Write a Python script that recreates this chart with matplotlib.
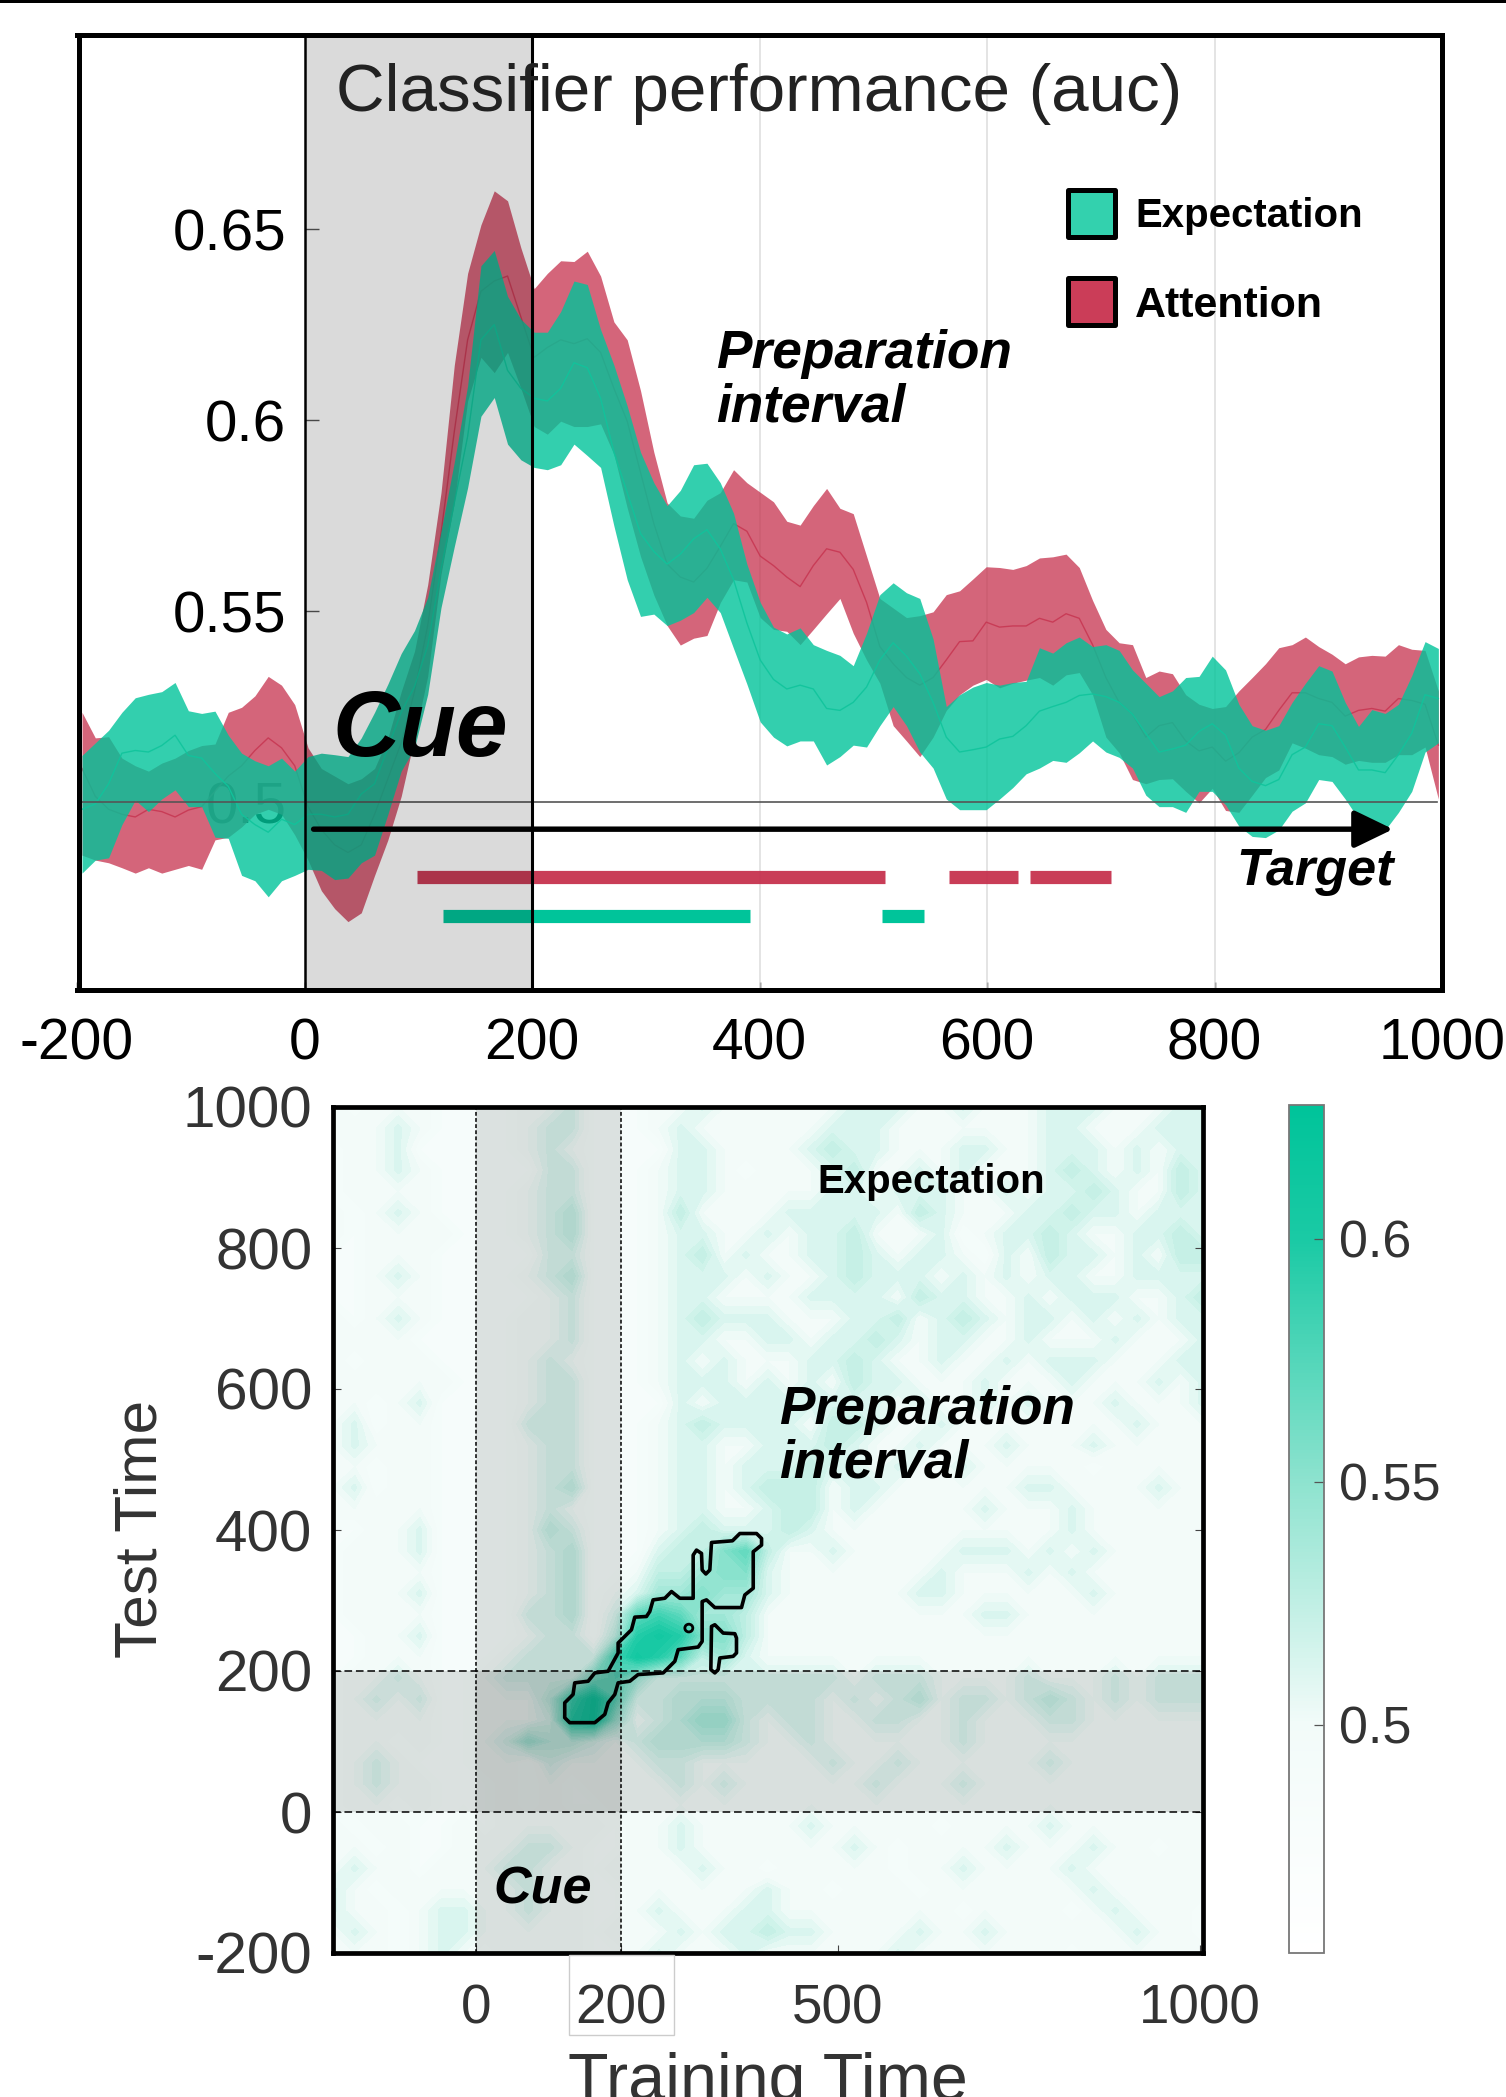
import numpy as np
import matplotlib
matplotlib.use('Agg')
import matplotlib.pyplot as plt
from matplotlib.colors import LinearSegmentedColormap, Normalize
from matplotlib.cm import ScalarMappable
from matplotlib.patches import Rectangle, Polygon, Circle

plt.rcParams['font.family'] = ['Liberation Sans', 'DejaVu Sans']
plt.rcParams['axes.unicode_minus'] = False

W, H = 1506, 2097

# ---------- decoding-time series (AUC), one sample every 11.69 ms from -195.6 ms ----------
times = [round(-195.6 + 11.69 * k, 1) for k in range(103)]

exp_upper = [
 .5122,.5155,.5188,.5235,.5273,.5282,.5289,.5313,.5239,.5232,.5238,.5175,.5128,.5108,.5095,.5115,.5081,
 .5119,.5128,.5124,.5119,.5168,.5235,.5309,.5389,.5449,.5536,.5709,.5890,.6090,.6404,.6444,.6324,.6264,
 .6230,.6230,.6284,.6364,.6355,.6237,.6144,.6037,.5916,.5836,.5776,.5816,.5883,.5887,.5836,.5756,.5623,
 .5523,.5458,.5440,.5456,.5412,.5397,.5384,.5357,.5442,.5543,.5574,.5548,.5533,.5427,.5250,.5281,.5301,
 .5313,.5306,.5313,.5316,.5404,.5390,.5417,.5432,.5407,.5412,.5397,.5346,.5311,.5276,.5291,.5326,.5329,
 .5382,.5346,.5256,.5200,.5188,.5200,.5261,.5311,.5357,.5343,.5261,.5198,.5242,.5232,.5256,.5331,.5420,.5402]
exp_lower = [
 .4814,.4848,.4854,.4941,.5005,.4975,.5008,.5032,.4988,.4988,.4908,.4905,.4808,.4794,.4752,.4794,.4808,
 .4824,.4821,.4797,.4801,.4841,.4861,.4968,.5081,.5142,.5282,.5509,.5669,.5823,.6010,.6059,.5937,.5896,
 .5876,.5870,.5883,.5937,.5907,.5876,.5723,.5582,.5486,.5492,.5462,.5476,.5496,.5536,.5496,.5402,.5309,
 .5210,.5170,.5147,.5160,.5160,.5097,.5119,.5149,.5144,.5200,.5250,.5200,.5131,.5089,.5008,.4980,.4980,
 .4980,.5008,.5038,.5074,.5089,.5109,.5104,.5129,.5160,.5131,.5117,.5089,.5018,.4988,.4988,.4973,.5028,
 .5028,.4993,.4937,.4910,.4907,.4927,.4976,.4998,.5059,.5054,.5008,.4956,.4925,.4927,.4973,.5028,.5131,.5155]
exp_mean = [
 .4981,.4995,.5048,.5128,.5135,.5131,.5148,.5175,.5122,.5115,.5075,.5041,.4968,.4941,.4921,.4955,.4941,
 .4968,.4968,.4961,.4968,.5021,.5048,.5142,.5235,.5302,.5409,.5609,.5783,.5957,.6210,.6250,.6130,.6083,
 .6057,.6050,.6083,.6150,.6137,.6057,.5916,.5810,.5703,.5656,.5623,.5649,.5689,.5713,.5663,.5582,.5469,
 .5372,.5321,.5296,.5306,.5296,.5245,.5240,.5261,.5301,.5372,.5417,.5382,.5336,.5261,.5170,.5131,.5137,
 .5144,.5165,.5172,.5200,.5238,.5250,.5261,.5279,.5283,.5276,.5261,.5230,.5180,.5131,.5139,.5149,.5185,
 .5205,.5175,.5089,.5054,.5043,.5059,.5124,.5144,.5205,.5200,.5144,.5084,.5084,.5077,.5124,.5180,.5281,.5271]
att_upper = [
 .5235,.5168,.5171,.5115,.5095,.5081,.5102,.5115,.5135,.5148,.5152,.5235,.5248,.5278,.5329,.5306,.5255,
 .5142,.5088,.5068,.5048,.5061,.5088,.5168,.5289,.5395,.5569,.5810,.6144,.6384,.6511,.6600,.6574,.6451,
 .6344,.6384,.6417,.6415,.6442,.6377,.6257,.6210,.6077,.5916,.5783,.5749,.5743,.5790,.5810,.5870,.5836,
 .5811,.5786,.5735,.5725,.5776,.5821,.5769,.5755,.5644,.5533,.5508,.5483,.5488,.5498,.5543,.5553,.5584,
 .5616,.5614,.5609,.5619,.5639,.5642,.5649,.5614,.5528,.5452,.5417,.5412,.5326,.5343,.5336,.5281,.5256,
 .5245,.5250,.5291,.5326,.5362,.5404,.5412,.5432,.5407,.5387,.5362,.5380,.5384,.5382,.5412,.5400,.5397,.5291]
att_lower = [
 .4861,.4848,.4841,.4828,.4814,.4828,.4814,.4824,.4834,.4824,.4901,.4908,.4935,.4968,.4981,.4968,.4914,
 .4848,.4768,.4721,.4687,.4710,.4808,.4901,.5015,.5168,.5329,.5596,.5783,.6050,.6164,.6124,.6177,.6083,
 .5983,.5963,.5997,.5983,.5983,.5990,.5910,.5770,.5643,.5542,.5462,.5411,.5429,.5436,.5522,.5582,.5576,
 .5483,.5452,.5447,.5412,.5452,.5493,.5533,.5442,.5372,.5311,.5200,.5160,.5119,.5170,.5240,.5281,.5306,
 .5321,.5299,.5311,.5319,.5326,.5306,.5333,.5339,.5281,.5170,.5129,.5059,.5048,.5059,.5061,.5028,.4998,
 .5036,.4978,.4973,.5018,.5064,.5084,.5155,.5141,.5124,.5119,.5099,.5109,.5104,.5104,.5124,.5124,.5144,.5008]
att_mean = [
 .5088,.5015,.4981,.4968,.4961,.4981,.4975,.4961,.4979,.4988,.5028,.5068,.5095,.5135,.5168,.5142,.5095,
 .4988,.4928,.4888,.4868,.4888,.4968,.5061,.5155,.5289,.5462,.5703,.5970,.6210,.6337,.6364,.6377,.6270,
 .6164,.6190,.6210,.6200,.6213,.6177,.6083,.5997,.5863,.5729,.5623,.5589,.5576,.5612,.5669,.5729,.5709,
 .5644,.5619,.5589,.5564,.5619,.5663,.5654,.5609,.5523,.5407,.5362,.5326,.5306,.5326,.5372,.5420,.5422,
 .5471,.5458,.5461,.5461,.5481,.5471,.5493,.5481,.5412,.5326,.5261,.5230,.5170,.5200,.5208,.5160,.5134,
 .5144,.5107,.5129,.5170,.5190,.5240,.5286,.5286,.5271,.5261,.5225,.5240,.5245,.5238,.5271,.5266,.5256,.5149]

# significant intervals (ms)
att_sig = [(99, 510), (567, 627), (638, 709)]
exp_sig = [(122, 392), (508, 545)]

top_xticks = [-200, 0, 200, 400, 600, 800, 1000]
top_yticks = [0.5, 0.55, 0.6, 0.65]
top_ylabels = ['0.5', '0.55', '0.6', '0.65']

# ---------- temporal generalisation matrix: each digit d stands for heat_levels[d] (AUC) ----------
heat_levels = [0.490, 0.500, 0.512, 0.525, 0.540, 0.555, 0.570, 0.583, 0.595, 0.6075]
heat_train = [-197 + 30 * i for i in range(41)]
heat_test = [1000 - 30 * r for r in range(41)]
heat_rows = [
 "10111000011200011211111122211211122211122",
 "11121000012200012111111222111111122111222",
 "01120000012100002211112322111221122212122",
 "01121000002200012210111231121211123212132",
 "01111000012200012211111221222112122321132",
 "10121000012300013111122222132111223221222",
 "10111100012300012211212231112012232112232",
 "00111000002200012312112232122102132212133",
 "00121000012300012221211232221212122112222",
 "00111000001200012211112222132211212221123",
 "10121000011200012322211122312321221212122",
 "11110000011200012211221223212211211121112",
 "10111000012100012121112232112112122211122",
 "11111100012200012221212132211121112111212",
 "11012000012200002122222222121121211121112",
 "12011000022200012322221332112111111112111",
 "12111000012200012211222321121112111211111",
 "11011000012200012212223221211211111011111",
 "12011000012300012212333122111111221111211",
 "11111000012100012211233121111121112111111",
 "00112000013200012322232111111111112111111",
 "01112000012300023356311211111222121211111",
 "01111000012300133455211111112111212111111",
 "01112000012301244544211111122111111211111",
 "01111000022302676443111111111122111111111",
 "00112000012203898553111111111111111111111",
 "00111000122227986342111111111111111111111",
 "01121001222256422222222212221111211121222",
 "01212001113796223332222121231221232121222",
 "01111001112894123442122112211211122111111",
 "01101001243321233332112111111211111111111",
 "01210001102111122111111211211111121111111",
 "01211000101011112121111112111211111111111",
 "01101000101001111111111111111111111111111",
 "10110010111110112111112111110111121111111",
 "11010011122100112111111121011112111211011",
 "12110111221101111211011111011211112111111",
 "21011111121100111111211011101111111211111",
 "21101221121100121112211111111011110121110",
 "12101221111101112122322111121121111112110",
 "11101210111100121112111111211111110111111",
]

# significance contour (training ms, test ms)
cluster_train = [122.9,122.9,129.8,164.4,178.2,182.8,192,196.6,212.7,224.2,258.8,274.9,279.5,307.1,312.6,312.6,
                 318.6,330.1,366.9,371.5,383.1,383.1,394.6,394.6,387.7,364.6,354.5,325.5,323.2,317.7,312.6,311.7,
                 304.8,300.2,300.2,281.8,270.3,261.1,244.9,240.3,235.7,219.6,215,196.6,196.6,182.8,164.4,155.2,136.7,134.4]
cluster_test = [154.9,133.8,126.7,126.7,138.5,154.9,166.7,183.2,185.5,195,197.3,213.8,230.3,234,242,298.5,
                300.9,290,290,307.9,317.4,369.2,378.6,388,395,395,384.7,382.3,343.3,337.6,343.3,366.8,
                371.5,364.4,303.2,303.2,312.7,303.2,300.9,284.4,277.3,276.4,258.5,239.7,225.6,199.7,197.3,185.5,183.2,166.7]
islet_train = [325.5,330.1,341.6,357.7,360,360,355.4,337,334.7,330.1,324.6]
islet_test = [263.2,265.6,253.8,252.9,246.7,225.6,220.8,218.5,202,197.3,202]
hole_center = (294.2, 260.9)
hole_radius = 5.5

heat_xticks = [0, 200, 500, 1000]
heat_yticks = [-200, 0, 200, 400, 600, 800, 1000]
cbar_ticks = [0.5, 0.55, 0.6]
cbar_labels = ['0.5', '0.55', '0.6']

GREEN = '#00C49A'
RED = '#C6324E'


def box(l, t, r, b):
    return [l / W, 1 - b / H, (r - l) / W, (b - t) / H]


def ftext(x, y, s, **kw):
    return fig.text(x / W, 1 - y / H, s, va=kw.pop('va', 'baseline'), **kw)


fig = plt.figure(figsize=(W / 100, H / 100), dpi=100, facecolor='white')
fig.add_artist(Rectangle((0, 1 - 3 / H), 1, 3 / H, transform=fig.transFigure, fc='black', ec='none'))

# ================= top panel =================
ax = fig.add_axes(box(77, 35, 1442, 990))
ax.set_xlim(-200, 1000)
ax.set_ylim(0.4508, 0.7008)
ax.set_axisbelow(True)
t = np.array(times)
for v in (400, 600, 800):
    ax.axvline(v, color='#dddddd', lw=1.1, zorder=1)
ax.fill_between(t, att_lower, att_upper, color=RED, alpha=0.75, lw=0, zorder=2)
ax.plot(t, att_mean, color=RED, lw=1, alpha=0.8, zorder=2.05)
ax.fill_between(t, exp_lower, exp_upper, color=GREEN, alpha=0.8, lw=0, zorder=2.1)
ax.plot(t, exp_mean, color='#10C49C', lw=1, alpha=0.9, zorder=2.15)
ax.plot([-200, 996], [0.5, 0.5], color='#555555', lw=1.2, zorder=2.8)
for a, b in att_sig:
    ax.plot([a, b], [0.4804, 0.4804], color=RED, lw=9.5, solid_capstyle='butt', alpha=0.95, zorder=2.5)
for a, b in exp_sig:
    ax.plot([a, b], [0.4702, 0.4702], color=GREEN, lw=9.5, solid_capstyle='butt', zorder=2.5)
ax.axvspan(0, 200, color='black', alpha=0.145, lw=0, zorder=3)
ax.axvline(200, color='black', lw=2.2, zorder=4)
ax.axvline(-200, color='black', lw=7.2, zorder=6)
ax.annotate('', xy=(957, 0.4929), xytext=(8, 0.4929),
            arrowprops=dict(arrowstyle='-|>,head_length=0.95,head_width=0.46', lw=3.9, color='black',
                            fc='black', mutation_scale=25, shrinkA=0, shrinkB=0), zorder=5)
for s in ('top', 'right', 'bottom'):
    ax.spines[s].set_linewidth(3.6)
    ax.spines[s].set_zorder(6)
ax.spines['left'].set_position(('data', 0))
ax.spines['left'].set_linewidth(1.8)
ax.spines['left'].set_zorder(6)
ax.set_xticks(top_xticks)
ax.set_yticks(top_yticks)
ax.set_yticklabels(top_ylabels)
ax.tick_params(axis='x', direction='in', length=6, width=1, labelsize=41, pad=20)
ax.tick_params(axis='y', direction='in', length=10, width=1, color='#555555', labelsize=42, pad=13)

ftext(336, 111, 'Classifier performance (auc)', fontsize=48.5, color='#222222')
ftext(332, 756, 'Cue', fontsize=67, fontweight='bold', fontstyle='italic', zorder=8)
ftext(716, 368, 'Preparation', fontsize=38.3, fontweight='bold', fontstyle='italic')
ftext(716, 421, 'interval', fontsize=38.3, fontweight='bold', fontstyle='italic')
ftext(1236, 885, 'Target', fontsize=37.5, fontweight='bold', fontstyle='italic')
ftext(1135, 227, 'Expectation', fontsize=28.9, fontweight='bold')
ftext(1135, 317, 'Attention', fontsize=31, fontweight='bold')
for (top, col) in ((190, '#33D1AE'), (278, '#CB3D58')):
    fig.add_artist(Rectangle((1068 / W, 1 - (top + 47) / H), 47 / W, 47 / H, transform=fig.transFigure,
                             fc=col, ec='black', lw=3.6, joinstyle='round'))

# ================= bottom panel =================
cmap = LinearSegmentedColormap.from_list('auc', [(0, '#FFFFFF'), (0.27, '#F2FBF9'), (0.555, '#8EE3CF'),
                                                  (0.84, '#1BCAA5'), (1, GREEN)])
norm = Normalize(0.453, 0.6275)
Z = np.array([[heat_levels[int(c)] for c in row] for row in heat_rows])

ax2 = fig.add_axes(box(333, 1107, 1203, 1953))
ax2.set_xlim(-197, 1004)
ax2.set_ylim(-200, 1000)
ax2.contourf(heat_train, heat_test, Z, levels=np.arange(0.48, 0.63, 0.005), cmap=cmap, norm=norm, zorder=1)
ax2.axvspan(0, 200, color='black', alpha=0.105, lw=0, zorder=2)
ax2.axhspan(0, 200, color='black', alpha=0.105, lw=0, zorder=2)
for v in (0, 200):
    ax2.axvline(v, color='black', lw=1.1, ls=(0, (2.5, 1.5)), zorder=3)
    ax2.axhline(v, color='black', lw=1.1, ls=(0, (5, 2.5)), zorder=3)
ax2.add_patch(Polygon(np.column_stack([cluster_train, cluster_test]), closed=True, fc='none', ec='black',
                      lw=2.6, joinstyle='round', zorder=4))
ax2.add_patch(Polygon(np.column_stack([islet_train, islet_test]), closed=True, fc='none', ec='black',
                      lw=2.6, joinstyle='round', zorder=4))
ax2.add_patch(Circle(hole_center, hole_radius, fc='none', ec='black', lw=2, zorder=4))
for s in ax2.spines.values():
    s.set_linewidth(3.4)
    s.set_zorder(6)
ax2.set_xticks(heat_xticks)
ax2.set_yticks(heat_yticks)
ax2.tick_params(axis='both', direction='in', length=6, width=0.8, color='#444444', labelcolor='#333333',
                labelsize=39, right=True)
ax2.tick_params(axis='x', pad=22, labelsize=39.5)
ax2.tick_params(axis='y', pad=15, labelsize=42)

fig.add_artist(Rectangle((569 / W, 1 - 2035 / H), 105 / W, 80 / H, transform=fig.transFigure,
                         fc='none', ec='#cccccc', lw=1))
ftext(817, 1193, 'Expectation', fontsize=28.9, fontweight='bold', zorder=8)
ftext(779, 1424, 'Preparation', fontsize=38.3, fontweight='bold', fontstyle='italic', zorder=8)
ftext(779, 1478, 'interval', fontsize=38.3, fontweight='bold', fontstyle='italic', zorder=8)
ftext(493, 1903, 'Cue', fontsize=37.5, fontweight='bold', fontstyle='italic', zorder=8)
ftext(141, 1529, 'Test Time', fontsize=43.5, rotation=90, ha='center', va='center', color='#333333')
ftext(568, 2100, 'Training Time', fontsize=47.8, color='#333333')

# ================= colour bar =================
cax = fig.add_axes(box(1289, 1105, 1324, 1953))
cb = fig.colorbar(ScalarMappable(norm=norm, cmap=cmap), cax=cax)
cb.set_ticks(cbar_ticks)
cb.set_ticklabels(cbar_labels)
cb.ax.tick_params(direction='in', length=7.5, width=0.9, color='#555555', labelcolor='#333333',
                  labelsize=37.5, pad=11)
cb.outline.set_edgecolor('#777777')
cb.outline.set_linewidth(1.3)

fig.savefig('out.png', dpi=100)
